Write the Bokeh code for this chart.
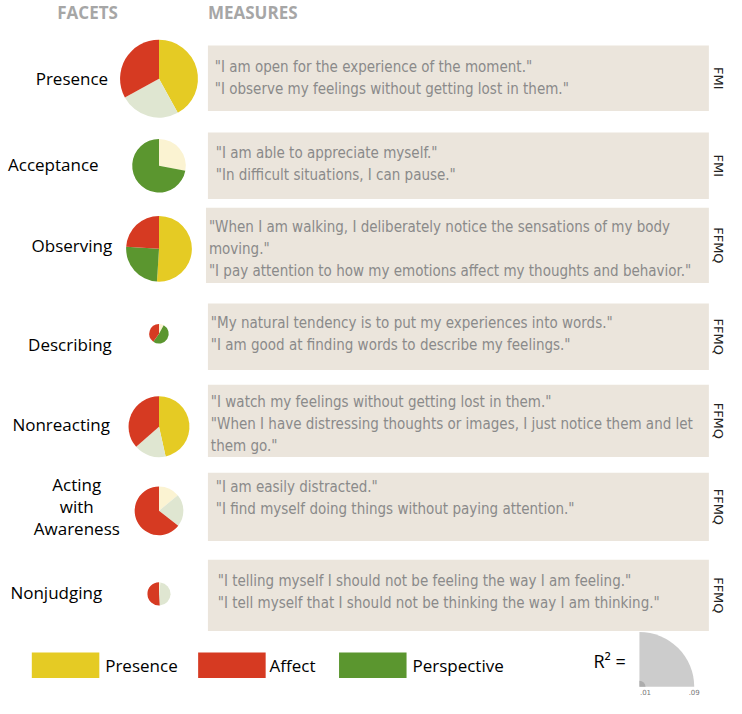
import math
from bokeh.plotting import figure
from bokeh.models import Range1d
from bokeh.core.properties import value
from bokeh.embed import file_html
from bokeh.resources import INLINE

# ---------------- data ----------------
facets = ["Presence", "Acceptance", "Observing", "Describing", "Nonreacting",
          "Acting\nwith\nAwareness", "Nonjudging"]
r_squared = [0.064, 0.044, 0.054, 0.016, 0.050, 0.040, 0.019]
presence_share = [42, 28, 51, 8, 46.5, 14, 2]
perspective_share = [25, 72, 25, 52, 17, 21.5, 47]
affect_share = [33, 0, 24, 40, 36.5, 64.5, 51]
presence_strong = [True, False, True, False, True, False, False]
perspective_strong = [False, True, True, True, False, False, False]
affect_strong = [True, True, True, True, True, True, True]
measures = [
    ['"I am open for the experience of the moment."',
     '"I observe my feelings without getting lost in them."'],
    ['"I am able to appreciate myself."',
     '"In difficult situations, I can pause."'],
    ['"When I am walking, I deliberately notice the sensations of my body',
     'moving."',
     '"I pay attention to how my emotions affect my thoughts and behavior."'],
    ['"My natural tendency is to put my experiences into words."',
     '"I am good at finding words to describe my feelings."'],
    ['"I watch my feelings without getting lost in them."',
     '"When I have distressing thoughts or images, I just notice them and let',
     'them go."'],
    ['"I am easily distracted."',
     '"I find myself doing things without paying attention."'],
    ['"I telling myself I should not be feeling the way I am feeling."',
     '"I tell myself that I should not be thinking the way I am thinking."'],
]
sources = ["FMI", "FMI", "FFMQ", "FFMQ", "FFMQ", "FFMQ", "FFMQ"]
legend_labels = ["Presence", "Affect", "Perspective"]
scale_values = [0.01, 0.09]
scale_labels = [".01", ".09"]

# ---------------- styles / layout ----------------
YELLOW, RED, GREEN = "#e5cb24", "#d63a22", "#5b962f"
PALE_YELLOW, PALE_GREEN = "#fbf3d2", "#dfe6d1"
BOX = "#ebe5dc"
QUOTE = "#8a8a8a"
HEAD = "#a6a6a6"
QUOTE_FONT = "'DejaVu Sans Condensed', 'Roboto', sans-serif"

W, H = 726, 698
REF_W, REF_H = 742, 714
def Y(py):  # reference pixel (from top) -> data y
    return REF_H - py

pie_x = 162
pie_y = [80, 169, 254, 341, 436, 522, 607]
label_x = [73, 54, 73, 71, 62, 78, 57]
label_y = [80, 168, 251, 352, 434, 518, 606]
box_top = [46, 135, 212, 310, 393, 483, 572]
box_bot = [113, 203, 289, 378, 467, 553, 645]
box_left = [212, 212, 210, 212, 212, 212, 212]
box_right = 724
quote_x = [219, 220, 213, 215, 215, 220, 222]
quote_y0 = [68, 156, 232, 330, 411, 498, 594]
line_gap = 22.5
src_x = 734
RADIUS_PER_R2 = 56 / 0.09

p = figure(width=W, height=H, output_backend="svg", toolbar_location=None,
           x_range=Range1d(0, REF_W), y_range=Range1d(0, REF_H),
           min_border=0)
p.axis.visible = False
p.grid.visible = False
p.outline_line_color = None
p.background_fill_color = "white"
p.border_fill_color = "white"

# headers
p.text(x=[58, 212], y=[Y(12), Y(12)], text=["FACETS", "MEASURES"],
       text_font=value("Open Sans"), text_font_size="17px", text_font_style="bold",
       text_color=HEAD, text_baseline="middle", text_align="left")

for i, name in enumerate(facets):
    # measure boxes
    p.quad(left=box_left[i], right=box_right, top=Y(box_top[i]), bottom=Y(box_bot[i]),
           fill_color=BOX, line_color=None)
    lines = measures[i]
    p.text(x=[quote_x[i]] * len(lines),
           y=[Y(quote_y0[i] + k * line_gap) for k in range(len(lines))],
           text=lines, text_font=value(QUOTE_FONT), text_font_size="15px",
           text_color=QUOTE, text_baseline="middle", text_align="left")
    # source label
    p.text(x=[src_x], y=[Y((box_top[i] + box_bot[i]) / 2)], text=[sources[i]],
           angle=-math.pi / 2, text_font=value("DejaVu Sans"), text_font_size="13px",
           text_color="#222222", text_baseline="middle", text_align="center")
    # facet label
    flines = name.split("\n")
    n = len(flines)
    p.text(x=[label_x[i]] * n,
           y=[Y(label_y[i] + (k - (n - 1) / 2) * line_gap) for k in range(n)],
           text=flines, text_font=value("Open Sans"), text_font_size="17px",
           text_color="black", text_baseline="middle", text_align="center")
    # pie: clockwise from top -> presence, perspective, affect
    shares = [presence_share[i], perspective_share[i], affect_share[i]]
    strong = [presence_strong[i], perspective_strong[i], affect_strong[i]]
    full = [YELLOW, GREEN, RED]
    pale = [PALE_YELLOW, PALE_GREEN, "#f2c9c0"]
    total = sum(shares)
    r = r_squared[i] * RADIUS_PER_R2
    acc = 0.0
    for s, st, fc, pc in zip(shares, strong, full, pale):
        if s <= 0:
            continue
        a0 = acc / total * 2 * math.pi
        acc += s
        a1 = acc / total * 2 * math.pi
        p.wedge(x=pie_x, y=Y(pie_y[i]), radius=r,
                start_angle=math.pi / 2 - a1, end_angle=math.pi / 2 - a0,
                fill_color=fc if st else pc, line_color=None)

# legend
leg_colors = [YELLOW, RED, GREEN]
leg_left = [32, 202, 346]
leg_text_x = [107, 275, 421]
for c, lx, tx, lab in zip(leg_colors, leg_left, leg_text_x, legend_labels):
    p.quad(left=lx, right=lx + 69, top=Y(667), bottom=Y(693), fill_color=c, line_color=None)
    p.text(x=[tx], y=[Y(680)], text=[lab], text_font=value("Open Sans"),
           text_font_size="17px", text_color="black", text_baseline="middle",
           text_align="left")

# R² scale
p.text(x=[606], y=[Y(676)], text=["R² ="], text_font=value("Open Sans"),
       text_font_size="18px", text_color="black", text_baseline="middle", text_align="left")
qx, qy = 653, Y(702)
p.wedge(x=qx, y=qy, radius=scale_values[1] * RADIUS_PER_R2, start_angle=0,
        end_angle=math.pi / 2, fill_color="#cccccc", line_color=None)
p.wedge(x=qx, y=qy, radius=scale_values[0] * RADIUS_PER_R2, start_angle=0,
        end_angle=math.pi / 2, fill_color="#acacac", line_color=None)
p.text(x=[qx + v * RADIUS_PER_R2 for v in scale_values], y=[Y(707)] * 2, text=scale_labels,
       text_font=value("DejaVu Sans"), text_font_size="7px", text_color="#777777",
       text_baseline="middle", text_align="center")

open("out.html", "w").write(file_html(p, INLINE))
